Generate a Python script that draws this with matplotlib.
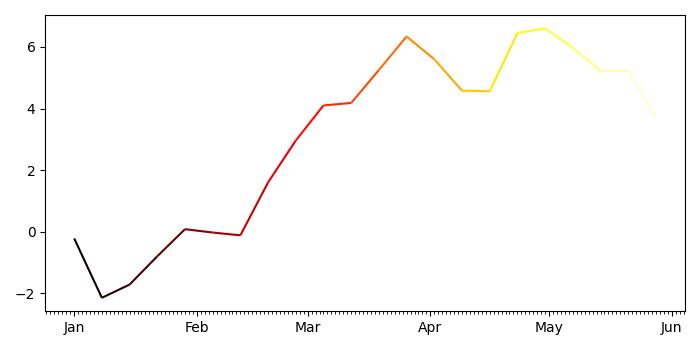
import numpy as np
import pandas as pd
import matplotlib
matplotlib.use("Agg")
import matplotlib.pyplot as plt
import matplotlib.dates as mdates
from matplotlib.collections import LineCollection

dates = pd.date_range("2021-01-01", periods=22, freq="7D")
values = [-0.22, -2.15, -1.72, -0.80, 0.08, -0.03, -0.12, 1.60, 2.96, 4.10, 4.18,
          5.25, 6.34, 5.60, 4.58, 4.56, 6.45, 6.60, 5.97, 5.22, 5.24, 3.70]

fig, ax = plt.subplots(figsize=(7, 3.5), dpi=100)
xnum = mdates.date2num(dates.to_pydatetime())
pts = np.column_stack([xnum, values]).reshape(-1, 1, 2)
segs = np.concatenate([pts[:-1], pts[1:]], axis=1)
lc = LineCollection(segs, cmap="hot", norm=plt.Normalize(0, len(segs)), linewidth=1.5)
lc.set_array(np.arange(len(segs)))
ax.add_collection(lc)
ax.autoscale_view()
ax.xaxis.set_major_locator(mdates.MonthLocator())
ax.xaxis.set_major_formatter(mdates.DateFormatter("%b"))
ax.xaxis.set_minor_locator(mdates.DayLocator())
fig.tight_layout()
fig.savefig("out.png")
